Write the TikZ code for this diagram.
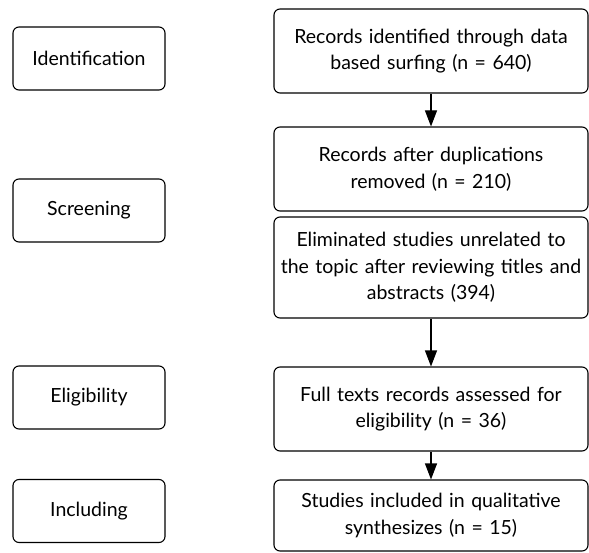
\documentclass[tikz,border=0pt]{standalone}
\usepackage{fontspec}
\setmainfont{Lato}
\usepackage{tikz}
\usetikzlibrary{arrows.meta}
\tikzset{st/.style={draw, rounded corners=6pt, line width=1.1pt, minimum width=152pt, minimum height=63pt, inner sep=0pt, font=\fontsize{19.5}{26.7}\selectfont}}
\tikzset{bx/.style={draw, rounded corners=6pt, line width=1.1pt, minimum width=314pt, text width=312pt, align=center, inner sep=0pt, font=\fontsize{19.5}{26.7}\selectfont}}

\begin{document}
\begin{tikzpicture}[x=1pt,y=-1pt,>={Triangle[length=16pt,width=12pt]}]
        \useasboundingbox (0,0) rectangle (589,553);
        % stages
        \node[st] (I) at (89,58.5) {Identification};
        \node[st] (S) at (89,210.5) {Screening};
        \node[st] (E) at (89,397.5) {Eligibility};
        \node[st] (N) at (89,511) {Including};
        % records
        \node[bx, minimum height=84pt] (R1) at (431,51) {Records identified through data\\based surfing (n = 640)};
        \node[bx, minimum height=84pt] (R2) at (431,169) {Records after duplications\\removed (n = 210)}
          edge [<-, line width=1.1pt] (R1);
        \node[bx, minimum height=101pt] (R3) at (431,267.5) {Eliminated studies unrelated to\\the topic after reviewing titles and\\abstracts (394)};
        \node[bx, minimum height=84pt] (R4) at (431,409) {Full texts records assessed for\\eligibility (n = 36)}
          edge [<-, line width=1.1pt] (R3);
        \node[bx, minimum height=71pt] (R5) at (431,515.5) {Studies included in qualitative\\synthesizes (n = 15)}
          edge [<-, line width=1.1pt] (R4);
      \end{tikzpicture}
\end{document}
